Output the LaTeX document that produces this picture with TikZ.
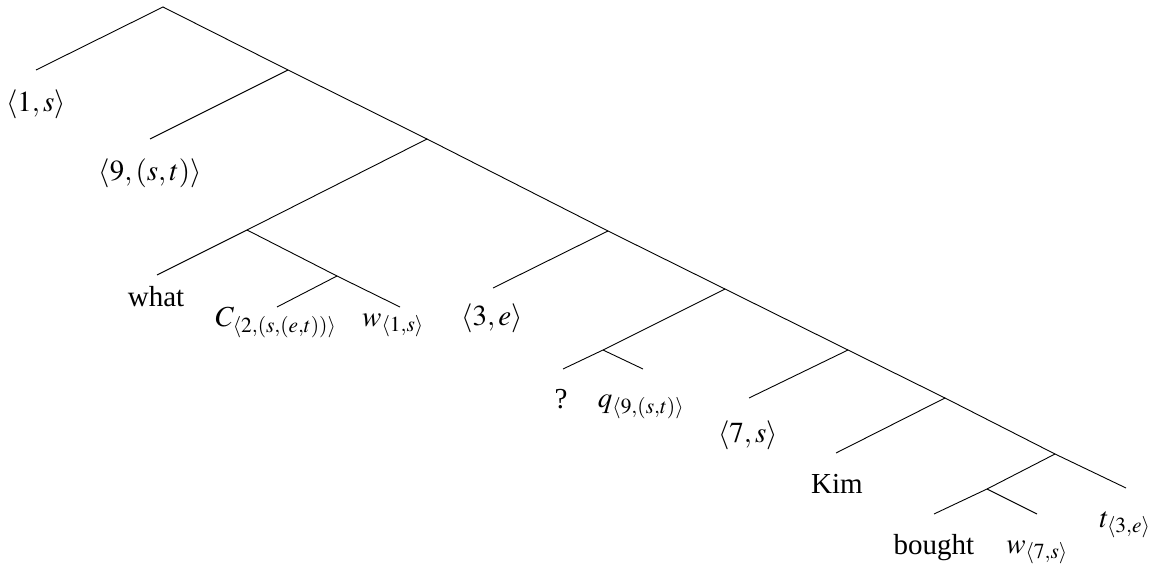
\documentclass[tikz,border=0pt]{standalone}
\usepackage{mathptmx}
\usepackage[no-math]{fontspec}
\setmainfont{Liberation Serif}
\begin{document}
\begin{tikzpicture}[x=1pt,y=-1pt,
  edge/.style={draw=black,line width=0.9pt},
  lbl/.style={anchor=base,inner sep=0pt,font=\fontsize{29}{34}\selectfont}]
\useasboundingbox (0,0) rectangle (1162,567);
% internal points
\coordinate (r0) at (163,7);
\coordinate (n1) at (288,70);
\coordinate (n2) at (427,139);
\coordinate (n3) at (247,230);
\coordinate (n4) at (337,276);
\coordinate (n5) at (608,231);
\coordinate (n6) at (725,289);
\coordinate (n7) at (603,350);
\coordinate (n8) at (848,350);
\coordinate (n9) at (945,398);
\coordinate (n10) at (1055,454);
\coordinate (n11) at (987,489);
% leaf ends
\coordinate (l1) at (36,70);
\coordinate (l2) at (150,139);
\coordinate (l3) at (157,275);
\coordinate (l4a) at (277,307);
\coordinate (l4b) at (400,307);
\coordinate (l5) at (493,288);
\coordinate (l7a) at (563,369);
\coordinate (l7b) at (643,369);
\coordinate (l8) at (749,398);
\coordinate (l9) at (836,453);
\coordinate (l10) at (1126,488);
\coordinate (l11a) at (934,514);
\coordinate (l11b) at (1037,514);
% edges
\draw[edge] (l1) -- (r0) -- (n1) -- (n2) -- (n5) -- (n6) -- (n8) -- (n9) -- (n10) -- (l10);
\draw[edge] (n1) -- (l2);
\draw[edge] (n2) -- (n3) -- (l3);
\draw[edge] (n3) -- (n4) -- (l4b);
\draw[edge] (n4) -- (l4a);
\draw[edge] (n5) -- (l5);
\draw[edge] (n6) -- (n7) -- (l7a);
\draw[edge] (n7) -- (l7b);
\draw[edge] (n8) -- (l8);
\draw[edge] (n9) -- (l9);
\draw[edge] (n10) -- (n11) -- (l11a);
\draw[edge] (n11) -- (l11b);
% labels
\node[lbl] (t1) at (36,112) {$\langle 1,s\rangle$};
\node[lbl] (t2) at (150,180) {$\langle 9,(s,t)\rangle$};
\node[lbl] (t3) at (156,306) {what};
\node[lbl] (t4a) at (276,326) {$C_{\langle 2,(s,(e,t))\rangle}$};
\node[lbl] (t4b) at (393,326) {$w_{\langle 1,s\rangle}$};
\node[lbl] (t5) at (492,325) {$\langle 3,e\rangle$};
\node[lbl] (t7a) at (561,408) {?};
\node[lbl] (t7b) at (641,407) {$q_{\langle 9,(s,t)\rangle}$};
\node[lbl] (t8) at (748,442) {$\langle 7,s\rangle$};
\node[lbl] (t9) at (837,493) {Kim};
\node[lbl] (t11a) at (934,554) {bought};
\node[lbl] (t11b) at (1037,553) {$w_{\langle 7,s\rangle}$};
\node[lbl] (t10) at (1125,527) {$t_{\langle 3,e\rangle}$};
\end{tikzpicture}
\end{document}
